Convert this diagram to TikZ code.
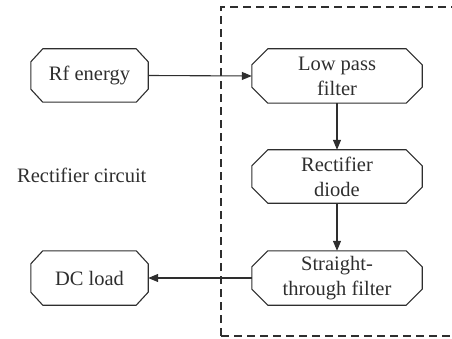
\documentclass[tikz,border=0pt]{standalone}
\usepackage{fontspec}
\setmainfont{Liberation Serif}
\usetikzlibrary{arrows.meta}
\definecolor{ink}{HTML}{2E2E2E}
\tikzset{
  txt/.style={font=\fontsize{20.5}{25}\selectfont, text=ink, align=center, inner sep=0pt},
  boxline/.style={draw=ink, line width=1.1pt, line join=miter},
  conn/.style={draw=ink, line width=1.1pt, -{Triangle[length=10pt,width=8pt]}},
}
\newcommand{\octbox}[3]{% node, xchamfer, ychamfer
  \draw[boxline] ([xshift=#2]#1.north west) -- ([xshift=-#2]#1.north east)
    -- ([yshift=-#3]#1.north east) -- ([yshift=#3]#1.south east)
    -- ([xshift=-#2]#1.south east) -- ([xshift=#2]#1.south west)
    -- ([yshift=#3]#1.south west) -- ([yshift=-#3]#1.north west) -- cycle;}
\begin{document}
\begin{tikzpicture}[x=1pt,y=-1pt]
\useasboundingbox (0,0) rectangle (452,339);
\begin{scope}
\clip (0,0) rectangle (452,339);
\draw[draw=ink, line width=1.1pt, dash pattern=on 8pt off 5pt] (221,336) -- (221,7) -- (470,7);
\draw[draw=ink, line width=1.1pt, dash pattern=on 8pt off 5pt] (221,336) -- (470,336);
\end{scope}
\node[txt, minimum width=117pt, minimum height=53pt] (rf) at (89.5,75.5) {Rf energy};
\node[txt, minimum width=170pt, minimum height=54pt] (lpf) at (337,76) {Low pass\\filter};
\node[txt, minimum width=170pt, minimum height=53pt] (rd) at (337,176.5) {Rectifier\\diode};
\node[txt, minimum width=170pt, minimum height=54pt] (stf) at (337,278) {Straight-\\through filter};
\node[txt, minimum width=117pt, minimum height=54pt] (dc) at (89.5,278) {DC load};
\node[txt, anchor=west] (rc) at (17,175) {Rectifier circuit};
\octbox{rf}{12pt}{13pt}
\octbox{dc}{12pt}{13pt}
\octbox{lpf}{16pt}{16pt}
\octbox{rd}{16pt}{16pt}
\octbox{stf}{16pt}{16pt}
\draw[conn] (rf.east) -- (lpf.west);
\draw[conn] (lpf.south) -- (rd.north);
\draw[conn] (rd.south) -- (stf.north);
\draw[conn] (stf.west) -- (dc.east);
\end{tikzpicture}
\end{document}
